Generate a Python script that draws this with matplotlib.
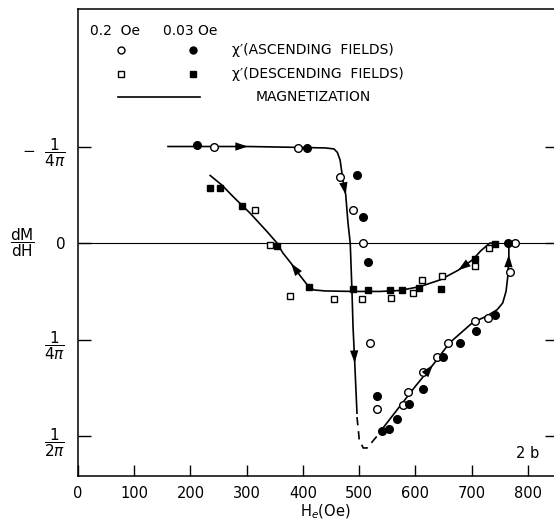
import numpy as np
import matplotlib
matplotlib.use("Agg")
import matplotlib.pyplot as plt

plt.rcParams['font.family'] = ['DejaVu Sans']
plt.rcParams['mathtext.fontset'] = 'dejavusans'

# y values are in units of 1/(4 pi)
# chi' ascending fields
asc_open_x = [241, 391, 466, 489, 507, 519, 531, 578, 587, 613, 638, 658, 705, 729, 768, 777]
asc_open_y = [1.0, 0.98, 0.68, 0.34, 0.0, -1.03, -1.72, -1.68, -1.54, -1.33, -1.18, -1.03, -0.81, -0.77, -0.30, 0.0]
asc_fill_x = [212, 407, 496, 507, 515, 531, 540, 553, 567, 588, 613, 649, 680, 708, 742, 764]
asc_fill_y = [1.02, 0.98, 0.70, 0.27, -0.20, -1.58, -1.94, -1.92, -1.82, -1.67, -1.51, -1.18, -1.03, -0.91, -0.74, 0.0]

# chi' descending fields
desc_open_x = [314, 342, 377, 455, 505, 556, 595, 612, 647, 706, 731]
desc_open_y = [0.34, -0.02, -0.55, -0.58, -0.58, -0.57, -0.52, -0.38, -0.34, -0.24, -0.05]
desc_fill_x = [234, 253, 292, 354, 410, 489, 515, 555, 576, 606, 646, 706, 742]
desc_fill_y = [0.57, 0.57, 0.38, -0.03, -0.45, -0.47, -0.49, -0.48, -0.49, -0.46, -0.47, -0.16, -0.01]

# magnetization curve branches
mag_top_x = [160, 250, 302, 400, 440, 455, 461, 466, 471, 476, 480, 484, 487, 489, 492, 496]
mag_top_y = [1.0, 1.0, 1.0, 0.99, 0.985, 0.975, 0.94, 0.86, 0.65, 0.50, 0.21, 0.0, -0.48, -0.87, -1.24, -1.76]
mag_dash_x = [496, 500, 507, 514, 524, 537, 540]
mag_dash_y = [-1.80, -2.03, -2.12, -2.12, -2.05, -1.96, -1.93]
mag_low_x = [540, 600, 631, 661, 702, 725, 745, 755, 761, 764, 765.5, 766, 766]
mag_low_y = [-1.93, -1.48, -1.26, -1.03, -0.82, -0.76, -0.69, -0.62, -0.50, -0.35, -0.20, -0.12, 0.0]
mag_desc_x = [740, 732, 716, 702, 676, 644, 608, 572, 537, 490, 440, 420, 410, 394, 379, 364, 354, 336, 306, 276, 256, 235]
mag_desc_y = [0.0, 0.0, -0.08, -0.17, -0.28, -0.38, -0.45, -0.49, -0.50, -0.50, -0.495, -0.485, -0.45, -0.33, -0.21, -0.10, 0.0, 0.12, 0.31, 0.48, 0.60, 0.70]

# arrow heads: (branch, vertex index)
arrows = [("top", 2), ("top", 9), ("top", 14), ("low", 2), ("low", 11), ("desc", 4), ("desc", 14)]

xticks = [0, 100, 200, 300, 400, 500, 600, 700, 800]
yticks = [1, 0, -1, -2]
ytick_labels = [r'$-\ \ \dfrac{1}{4\pi}$', '0', r'$\dfrac{1}{4\pi}$', r'$\dfrac{1}{2\pi}$']

fig = plt.figure(figsize=(5.54, 5.23), dpi=100)
ax = fig.add_axes([78/554, 47/523, 479/554, 466.7/523])
ax.set_xlim(0, 851.6)
ax.set_ylim(-2.41, 2.42)

ax.axhline(0, color='k', lw=0.8)

ax.plot(mag_top_x, mag_top_y, color='k', lw=1.2)
ax.plot(mag_dash_x, mag_dash_y, color='k', lw=1.2, ls=(0, (5, 3.5)))
ax.plot(mag_low_x, mag_low_y, color='k', lw=1.2)
ax.plot(mag_desc_x, mag_desc_y, color='k', lw=1.2)

branches = {"top": (mag_top_x, mag_top_y), "low": (mag_low_x, mag_low_y),
            "desc": (mag_desc_x, mag_desc_y)}
for name, i in arrows:
    bx, by = branches[name]
    ax.annotate('', xy=(bx[i], by[i]), xytext=(bx[i-1], by[i-1]),
                arrowprops=dict(arrowstyle='-|>,head_length=0.9,head_width=0.3',
                                color='k', lw=0, shrinkA=0, shrinkB=0))

ax.plot(asc_open_x, asc_open_y, 'o', ms=5.5, mfc='white', mec='k', mew=1)
ax.plot(asc_fill_x, asc_fill_y, 'o', ms=5.5, mfc='k', mec='k')
ax.plot(desc_open_x, desc_open_y, 's', ms=5, mfc='white', mec='k', mew=1)
ax.plot(desc_fill_x, desc_fill_y, 's', ms=5, mfc='k', mec='k')

ax.set_xticks(xticks)
ax.set_yticks(yticks)
ax.set_yticklabels(ytick_labels)
ax.tick_params(axis='x', direction='in', length=8, width=1, labelsize=10.5, pad=7)
ax.tick_params(axis='y', direction='in', length=9, width=1, labelsize=11, pad=9,
               right=True)
for s in ax.spines.values():
    s.set_linewidth(1.1)

ax.set_xlabel(r'H$_e$(Oe)', fontsize=10.5)
ax.xaxis.set_label_coords(0.516, -0.056)
ax.set_ylabel(r'$\dfrac{\mathrm{dM}}{\mathrm{dH}}$', rotation=0, fontsize=11,
              va='center', ha='center')
ax.yaxis.set_label_coords(-0.115, 0.5)

# legend drawn by hand
T = ax.transAxes
ax.text(0.025, 0.9535, '0.2  Oe', transform=T, fontsize=10, va='center')
ax.text(0.177, 0.9535, '0.03 Oe', transform=T, fontsize=10, va='center')
ax.plot([0.0898], [0.913], 'o', ms=5, mfc='white', mec='k', mew=1, transform=T)
ax.plot([0.240], [0.913], 'o', ms=5, mfc='k', mec='k', transform=T)
ax.plot([0.0898], [0.861], 's', ms=4.5, mfc='white', mec='k', mew=1, transform=T)
ax.plot([0.240], [0.861], 's', ms=4.5, mfc='k', mec='k', transform=T)
ax.plot([0.0835, 0.2547], [0.812, 0.812], color='k', lw=1.2, transform=T)
ax.text(0.3215, 0.913, "χ′(ASCENDING  FIELDS)", transform=T, fontsize=10, va='center')
ax.text(0.3215, 0.861, "χ′(DESCENDING  FIELDS)", transform=T, fontsize=10, va='center')
ax.text(0.3716, 0.812, "MAGNETIZATION", transform=T, fontsize=10, va='center')
ax.text(0.914, 0.049, '2 b', transform=T, fontsize=10.5, va='center')

fig.savefig("out.png", dpi=100)
